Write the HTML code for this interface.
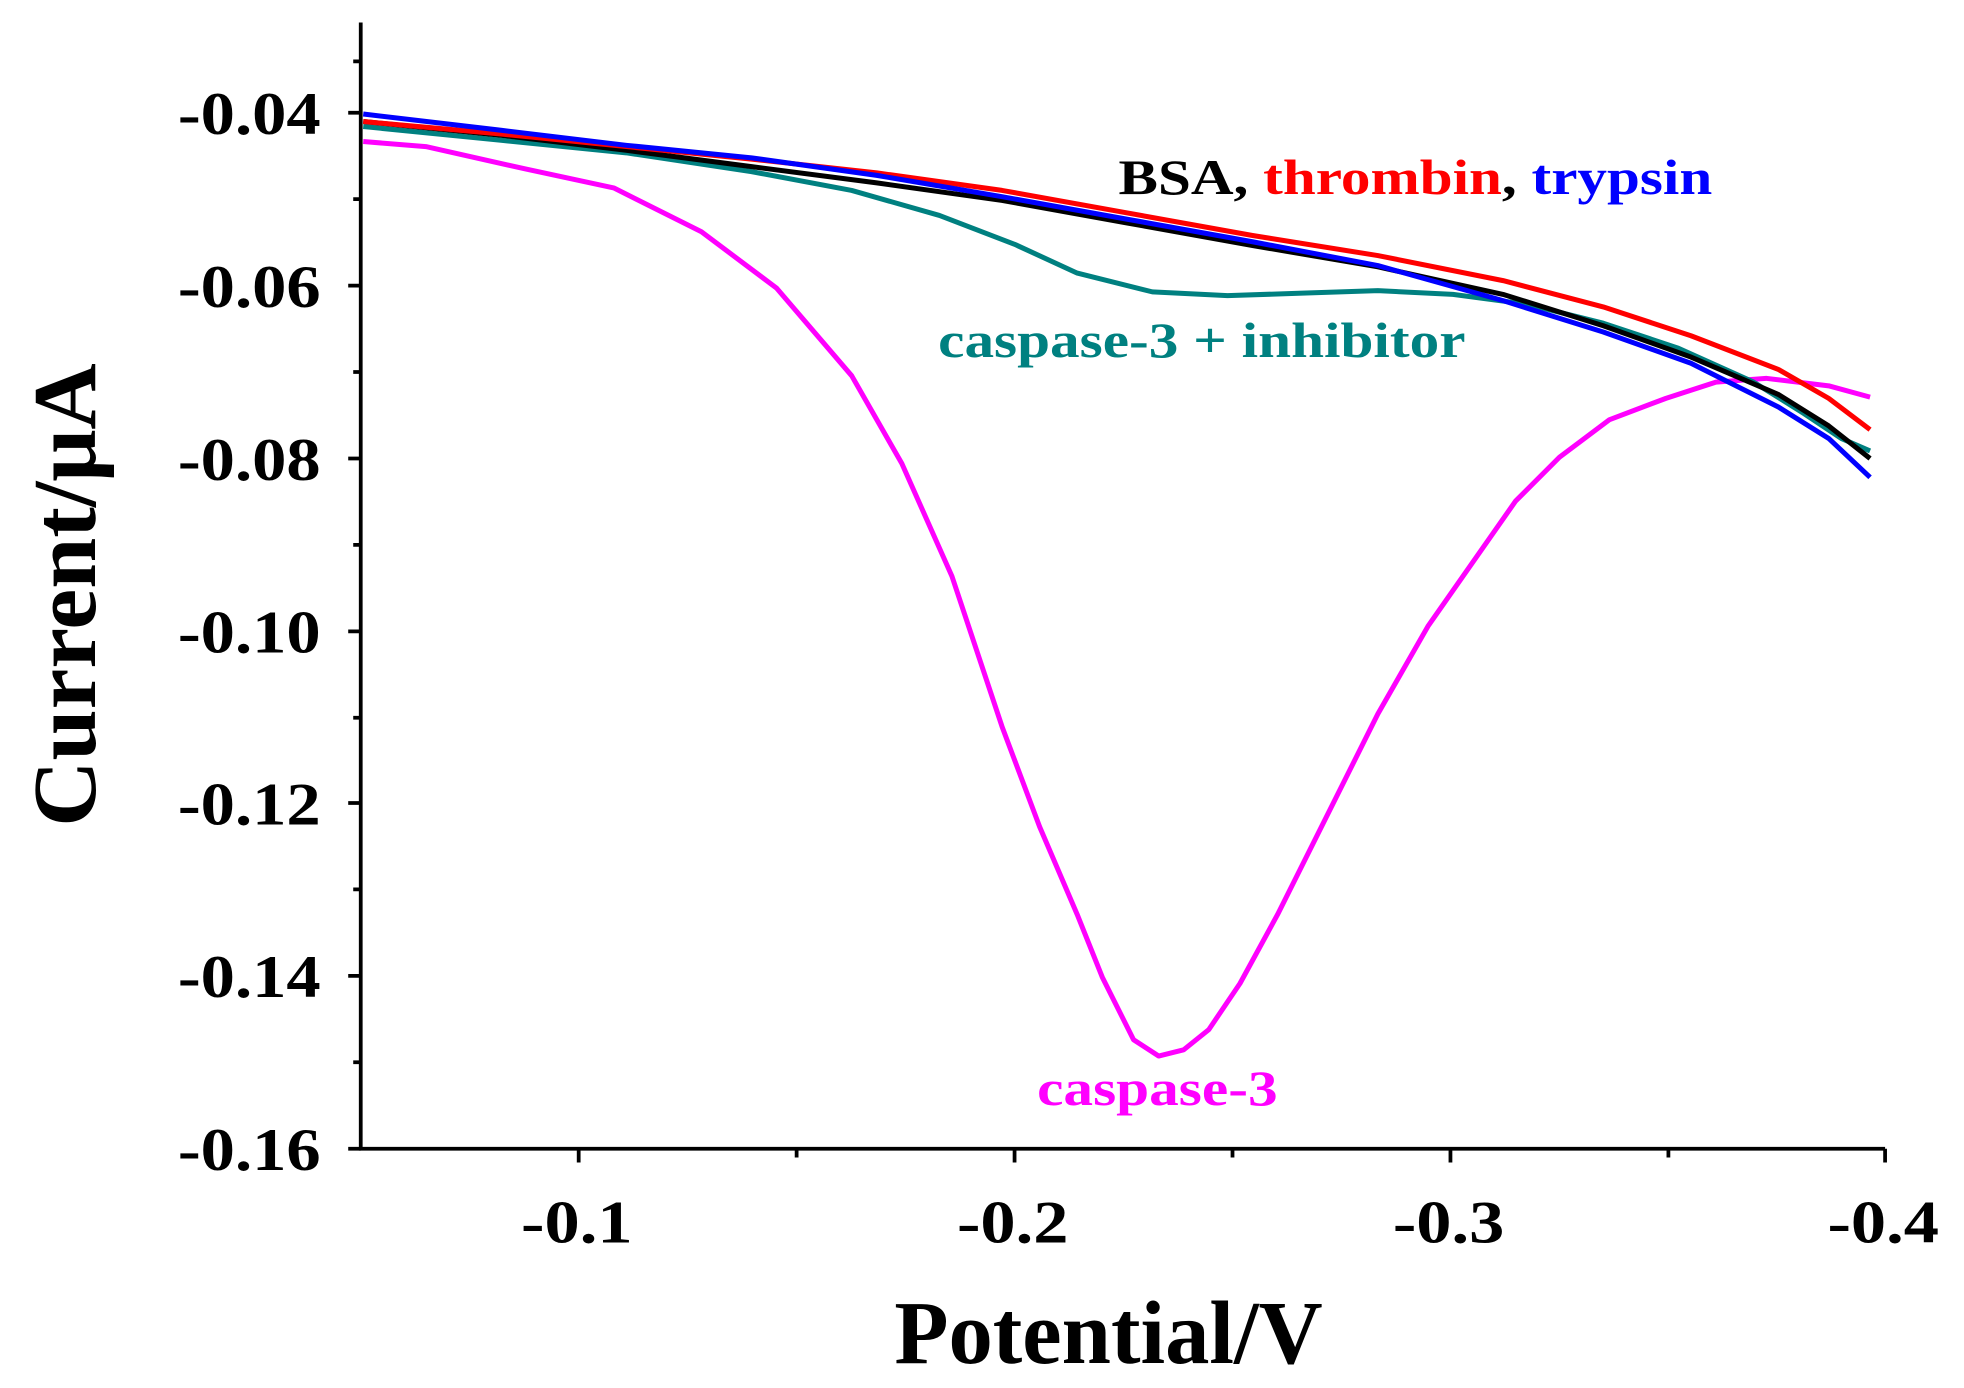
<!DOCTYPE html>
<html><head><style>html,body{margin:0;padding:0;background:#fff;}svg{display:block}</style></head>
<body>
<svg width="1964" height="1388" viewBox="0 0 1568 1108" preserveAspectRatio="none" xmlns="http://www.w3.org/2000/svg" font-family="Liberation Serif, serif" font-weight="bold">
<rect width="1568" height="1108" fill="#fff"/>
<g stroke="#000" stroke-width="3" fill="none">
<path d="M288 18 V917 H1505"/>
<path d="M278 90H288M278 228H288M278 366H288M278 504H288M278 641H288M278 779H288M278 917H288"/>
<path d="M282 159H288M282 297H288M282 435H288M282 573H288M282 710H288M282 848H288M282 49H288"/>
<path d="M462 917V928M810 917V928M1158 917V928M1505 917V928M636 917V924M984 917V924M1332 917V924"/>
</g>
<g font-size="48" fill="#000" lengthAdjust="spacingAndGlyphs">
<text x="142" y="107" textLength="114" lengthAdjust="spacingAndGlyphs">-0.04</text>
<text x="142" y="245" textLength="114" lengthAdjust="spacingAndGlyphs">-0.06</text>
<text x="142" y="383" textLength="114" lengthAdjust="spacingAndGlyphs">-0.08</text>
<text x="142" y="521" textLength="114" lengthAdjust="spacingAndGlyphs">-0.10</text>
<text x="142" y="658" textLength="114" lengthAdjust="spacingAndGlyphs">-0.12</text>
<text x="142" y="796" textLength="114" lengthAdjust="spacingAndGlyphs">-0.14</text>
<text x="142" y="934" textLength="114" lengthAdjust="spacingAndGlyphs">-0.16</text>
<text x="416" y="992" textLength="89" lengthAdjust="spacingAndGlyphs">-0.1</text>
<text x="764" y="992" textLength="89" lengthAdjust="spacingAndGlyphs">-0.2</text>
<text x="1112" y="992" textLength="89" lengthAdjust="spacingAndGlyphs">-0.3</text>
<text x="1459" y="992" textLength="89" lengthAdjust="spacingAndGlyphs">-0.4</text>
</g>
<text x="714" y="1088" font-size="72" textLength="342" lengthAdjust="spacingAndGlyphs">Potential/V</text>
<text transform="translate(76,660) rotate(-90)" font-size="72" textLength="370" lengthAdjust="spacingAndGlyphs">Current/μA</text>
<g fill="none" stroke-width="4" stroke-linejoin="round">
<polyline stroke="#ff00ff" points="290,113 340,117 420,135 490,150 560,185 620,230 680,300 720,370 760,460 800,580 830,660 860,730 880,780 905,830 925,843 945,838 965,822 990,785 1020,730 1060,650 1100,570 1140,500 1175,450 1210,400 1245,365 1285,335 1330,318 1370,305 1410,302 1460,308 1493,317"/>
<polyline stroke="#008080" points="290,101 400,112 500,122 600,137 680,152 750,172 810,195 860,218 920,233 980,236 1040,234 1100,232 1160,235 1220,243 1280,258 1340,278 1400,305 1440,330 1470,350 1493,360"/>
<polyline stroke="#000" points="290,97 400,108 500,120 600,133 700,146 800,160 900,178 1000,196 1100,213 1200,235 1280,260 1350,285 1420,315 1460,340 1493,366"/>
<polyline stroke="#ff0000" points="290,97 400,107 500,117 600,127 700,138 800,152 900,170 1000,188 1100,204 1200,224 1280,245 1350,268 1420,295 1460,318 1493,343"/>
<polyline stroke="#0000ff" points="290,91 400,104 500,116 600,126 700,140 800,157 900,175 1000,193 1100,212 1200,240 1280,265 1350,290 1420,325 1460,350 1493,381"/>
</g>
<text x="893" y="155" font-size="40" textLength="474" lengthAdjust="spacingAndGlyphs"><tspan fill="#000">BSA, </tspan><tspan fill="#ff0000">thrombin</tspan><tspan fill="#000">, </tspan><tspan fill="#0000ff">trypsin</tspan></text>
<text x="749" y="285" font-size="40" fill="#008080" textLength="421" lengthAdjust="spacingAndGlyphs">caspase-3 + inhibitor</text>
<text x="828" y="882" font-size="40" fill="#ff00ff" textLength="192" lengthAdjust="spacingAndGlyphs">caspase-3</text>
</svg>
</body></html>
